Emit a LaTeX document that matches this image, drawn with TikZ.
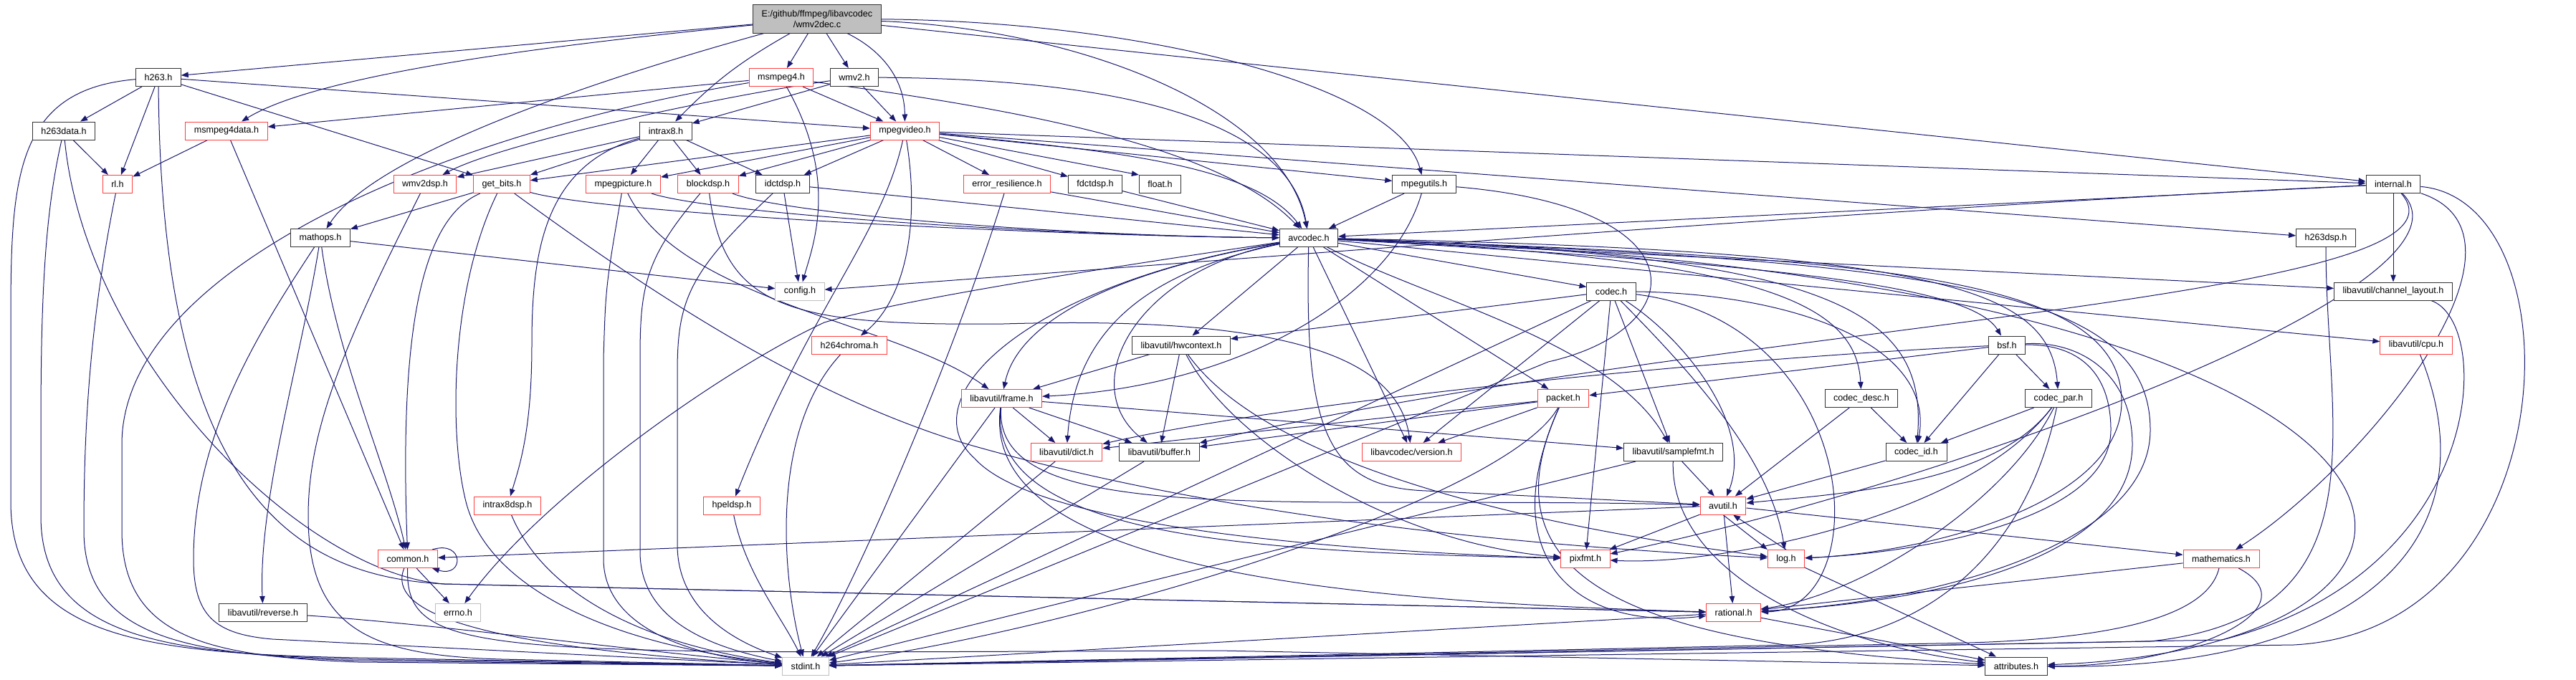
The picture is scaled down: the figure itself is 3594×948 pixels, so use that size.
\documentclass[tikz,border=0pt]{standalone}
\usepackage{fontspec}
\newfontfamily\graphfont{Liberation Sans}
\usetikzlibrary{arrows.meta,backgrounds}
\definecolor{edgeblue}{RGB}{25,25,112}
\definecolor{truncred}{RGB}{255,64,64}
\definecolor{sysgray}{RGB}{191,191,191}
\tikzset{hdr/.style={draw=black!80, line width=1pt, fill=white, inner xsep=12pt, inner ysep=2pt, minimum height=25pt, font=\graphfont\fontsize{12.6}{15}\selectfont},
  hdrtrunc/.style={hdr, draw=truncred},
  hdrsys/.style={hdr, draw=sysgray},
  hdrroot/.style={hdr, fill=sysgray, minimum height=40pt, align=center},
  incarrow/.style={-{Triangle[length=10pt,width=7.5pt]}, color=edgeblue, line width=1pt}}

\begin{document}
\begin{tikzpicture}[x=1pt, y=-1pt]
\useasboundingbox (0,0) rectangle (3594,948);
\node[hdrroot] (wmv2dec) at (1140,26) {E:/github/ffmpeg/libavcodec\\/wmv2dec.c};
\node[hdr] (h263) at (221,108) {h263.h};
\node[hdrtrunc] (msmpeg4) at (1090,108) {msmpeg4.h};
\node[hdr] (wmv2) at (1192,108) {wmv2.h};
\node[hdr] (h263data) at (89,182.5) {h263data.h};
\node[hdrtrunc] (msmpeg4data) at (316,182.5) {msmpeg4data.h};
\node[hdr] (intrax8) at (929,182.5) {intrax8.h};
\node[hdrtrunc] (mpegvideo) at (1262.5,182.5) {mpegvideo.h};
\node[hdrtrunc] (rl) at (164,257) {rl.h};
\node[hdrtrunc] (wmv2dsp) at (593,257) {wmv2dsp.h};
\node[hdrtrunc] (getbits) at (700,257) {get\_bits.h};
\node[hdrtrunc] (mpegpicture) at (869.5,257) {mpegpicture.h};
\node[hdrtrunc] (blockdsp) at (988,257) {blockdsp.h};
\node[hdr] (idctdsp) at (1092,257) {idctdsp.h};
\node[hdrtrunc] (errres) at (1405,257) {error\_resilience.h};
\node[hdr] (fdctdsp) at (1528,257) {fdctdsp.h};
\node[hdr] (floath) at (1618.5,257) {float.h};
\node[hdr] (mpegutils) at (1987,257) {mpegutils.h};
\node[hdr] (internal) at (3339,257) {internal.h};
\node[hdr] (mathops) at (447,332) {mathops.h};
\node[hdr] (avcodec) at (1826,332) {avcodec.h};
\node[hdr] (h263dsp) at (3245,332) {h263dsp.h};
\node[hdrsys] (config) at (1116,406.5) {config.h};
\node[hdr] (codec) at (2248,406.5) {codec.h};
\node[hdr] (chlayout) at (3339,406.5) {libavutil/channel\_layout.h};
\node[hdrtrunc] (h264chroma) at (1185,481.5) {h264chroma.h};
\node[hdr] (hwcontext) at (1648,481.5) {libavutil/hwcontext.h};
\node[hdr] (bsf) at (2800,481.5) {bsf.h};
\node[hdrtrunc] (cpu) at (3371,481.5) {libavutil/cpu.h};
\node[hdrtrunc] (frame) at (1397.5,556) {libavutil/frame.h};
\node[hdrtrunc] (packet) at (2181,556) {packet.h};
\node[hdr] (codecdesc) at (2597,556) {codec\_desc.h};
\node[hdr] (codecpar) at (2872,556) {codec\_par.h};
\node[hdrtrunc] (dict) at (1488,631) {libavutil/dict.h};
\node[hdr] (buffer) at (1617.5,631) {libavutil/buffer.h};
\node[hdrtrunc] (version) at (1969.5,631) {libavcodec/version.h};
\node[hdr] (samplefmt) at (2334.6,631) {libavutil/samplefmt.h};
\node[hdr] (codecid) at (2673.5,631) {codec\_id.h};
\node[hdrtrunc] (intrax8dsp) at (708,705.5) {intrax8dsp.h};
\node[hdrtrunc] (hpeldsp) at (1021,705.5) {hpeldsp.h};
\node[hdrtrunc] (avutil) at (2404,705.5) {avutil.h};
\node[hdrtrunc] (common) at (569,780) {common.h};
\node[hdrtrunc] (pixfmt) at (2212,780) {pixfmt.h};
\node[hdrtrunc] (log) at (2492,780) {log.h};
\node[hdrtrunc] (mathematics) at (3099,780) {mathematics.h};
\node[hdr] (reverse) at (367,855) {libavutil/reverse.h};
\node[hdrsys] (errno) at (639,855) {errno.h};
\node[hdrtrunc] (rational) at (2418.6,855) {rational.h};
\node[hdrsys] (stdint) at (1124,929.5) {stdint.h};
\node[hdr] (attributes) at (2813,929.5) {attributes.h};
\begin{scope}[on background layer]
% wmv2dec.c
\draw[incarrow] (wmv2dec) -- (h263);
\draw[incarrow] (wmv2dec) .. controls (800,60) and (450,100) .. (msmpeg4data);
\draw[incarrow] (wmv2dec) to[bend right=8] (intrax8);
\draw[incarrow] (wmv2dec) -- (msmpeg4);
\draw[incarrow] (wmv2dec) -- (wmv2);
\draw[incarrow] (wmv2dec) .. controls (1230,70) and (1262,110) .. (mpegvideo);
\draw[incarrow] (wmv2dec) .. controls (800,120) and (520,220) .. (mathops);
\draw[incarrow] (wmv2dec) .. controls (1500,40) and (1790,150) .. (avcodec);
\draw[incarrow] (wmv2dec) .. controls (1600,30) and (1950,120) .. (mpegutils);
\draw[incarrow] (wmv2dec) -- (internal);
% h263.h, h263data.h, rl.h, msmpeg4data.h
\draw[incarrow] (h263) -- (h263data);
\draw[incarrow] (h263) -- (rl);
\draw[incarrow] (h263) -- (mpegvideo);
\draw[incarrow] (h263) -- (getbits);
\draw[incarrow] (h263) .. controls (225,700) and (420,805) .. (620,815) -- (rational);
\draw[incarrow] (h263) .. controls (20,125) and (15,250) .. (15,450) -- (15,700) .. controls (15,890) and (200,912) .. (500,918) -- (stdint);
\draw[incarrow] (h263data) -- (rl);
\draw[incarrow] (h263data) .. controls (120,500) and (420,800) .. (620,815) -- (rational);
\draw[incarrow] (h263data) .. controls (62,300) and (57,420) .. (57,600) -- (57,720) .. controls (57,890) and (230,912) .. (500,920) -- (stdint);
\draw[incarrow] (rl) .. controls (125,450) and (117,600) .. (117,740) .. controls (117,890) and (260,914) .. (500,922) -- (stdint);
\draw[incarrow] (msmpeg4data) -- (rl);
\draw[incarrow] (msmpeg4data) -- (common);
\draw[incarrow] (wmv2dsp) .. controls (480,480) and (430,600) .. (430,720) .. controls (430,880) and (520,915) .. (700,920) -- (stdint);
% msmpeg4.h, wmv2.h, intrax8.h
\draw[incarrow] (msmpeg4) -- (msmpeg4data);
\draw[incarrow] (msmpeg4) -- (mpegvideo);
\draw[incarrow] (msmpeg4) .. controls (1400,150) and (1700,200) .. (avcodec);
\draw[incarrow] (msmpeg4) .. controls (1170,250) and (1135,340) .. (config);
\draw[incarrow] (msmpeg4) .. controls (600,190) and (170,380) .. (170,620) -- (170,740) .. controls (170,890) and (290,916) .. (500,924) -- (stdint);
\draw[incarrow] (wmv2) -- (intrax8);
\draw[incarrow] (wmv2) .. controls (1000,135) and (700,200) .. (wmv2dsp);
\draw[incarrow] (wmv2) -- (mpegvideo);
\draw[incarrow] (wmv2) .. controls (1600,110) and (1800,180) .. (avcodec);
\draw[incarrow] (intrax8) -- (wmv2dsp);
\draw[incarrow] (intrax8) -- (getbits);
\draw[incarrow] (intrax8) -- (mpegpicture);
\draw[incarrow] (intrax8) -- (blockdsp);
\draw[incarrow] (intrax8) -- (idctdsp);
\draw[incarrow] (intrax8) .. controls (760,230) and (742,350) .. (742,480) .. controls (742,600) and (725,650) .. (intrax8dsp);
% get_bits.h, mpegpicture.h, blockdsp.h, idctdsp.h, error_resilience.h, fdctdsp.h
\draw[incarrow] (getbits) -- (mathops);
\draw[incarrow] (getbits) .. controls (600,300) and (555,420) .. (common);
\draw[incarrow] (getbits) .. controls (630,400) and (625,600) .. (650,700) .. controls (680,820) and (850,900) .. (stdint);
\draw[incarrow] (getbits) .. controls (850,300) and (1500,330) .. (avcodec);
\draw[incarrow] (getbits) .. controls (950,440) and (1150,560) .. (1350,620) .. controls (1700,720) and (2100,760) .. (log);
\draw[incarrow] (mpegpicture) .. controls (845,400) .. (842,500) -- (842,780) .. controls (842,870) and (950,915) .. (stdint);
\draw[incarrow] (mpegpicture) .. controls (950,420) and (1250,450) .. (frame);
\draw[incarrow] (mpegpicture) .. controls (1000,300) and (1500,330) .. (avcodec);
\draw[incarrow] (blockdsp) .. controls (900,360) and (893,400) .. (893,500) -- (893,770) .. controls (893,870) and (1000,905) .. (stdint);
\draw[incarrow] (blockdsp) .. controls (1010,430) and (1100,455) .. (1400,452) .. controls (1800,440) and (1950,500) .. (version);
\draw[incarrow] (blockdsp) .. controls (1100,300) and (1500,330) .. (avcodec);
\draw[incarrow] (idctdsp) -- (config);
\draw[incarrow] (idctdsp) .. controls (960,380) and (945,420) .. (945,520) -- (945,760) .. controls (945,860) and (1040,900) .. (stdint);
\draw[incarrow] (idctdsp) -- (avcodec);
\draw[incarrow] (errres) .. controls (1330,500) and (1200,800) .. (stdint);
\draw[incarrow] (errres) -- (avcodec);
\draw[incarrow] (fdctdsp) -- (avcodec);
% mpegvideo.h
\draw[incarrow] (mpegvideo) -- (getbits);
\draw[incarrow] (mpegvideo) -- (mpegpicture);
\draw[incarrow] (mpegvideo) -- (blockdsp);
\draw[incarrow] (mpegvideo) -- (idctdsp);
\draw[incarrow] (mpegvideo) -- (errres);
\draw[incarrow] (mpegvideo) -- (fdctdsp);
\draw[incarrow] (mpegvideo) -- (floath.north west);
\draw[incarrow] (mpegvideo) -- (mpegutils);
\draw[incarrow] (mpegvideo) -- (internal);
\draw[incarrow] (mpegvideo) -- (h263dsp);
\draw[incarrow] (mpegvideo) .. controls (1550,210) and (1750,230) .. (avcodec);
\draw[incarrow] (mpegvideo) .. controls (1285,320) and (1260,420) .. (h264chroma);
\draw[incarrow] (mpegvideo) .. controls (1230,330) and (1130,430) .. (hpeldsp);
% mathops.h, common.h, the small headers
\draw[incarrow] (mathops) -- (config);
\draw[incarrow] (mathops) .. controls (470,500) and (540,650) .. (common);
\draw[incarrow] (mathops) .. controls (420,500) and (360,700) .. (reverse);
\draw[incarrow] (mathops) .. controls (370,450) and (270,600) .. (270,780) .. controls (270,860) and (300,885) .. (380,892) -- (stdint);
\draw[incarrow] ([xshift=-8pt]common.north east) .. controls +(45,-14) and +(45,14) .. ([xshift=-8pt]common.south east);
\draw[incarrow] (common) -- (errno);
\draw[incarrow] (common) .. controls (545,840) and (600,900) .. (stdint);
\draw[incarrow] (common) .. controls (565,920) and (680,912) .. (1700,908) -- (attributes);
\draw[incarrow] (reverse) .. controls (600,870) and (900,910) .. (stdint);
\draw[incarrow] (intrax8dsp) .. controls (760,830) and (900,900) .. (stdint);
\draw[incarrow] (hpeldsp) .. controls (1040,800) and (1090,860) .. (stdint);
\draw[incarrow] (h264chroma) .. controls (1075,600) and (1090,800) .. (stdint);
% avcodec.h
\draw[incarrow] (avcodec) .. controls (1500,380) and (1250,420) .. (1150,450) .. controls (1000,520) and (750,700) .. (errno);
\draw[incarrow] (avcodec) -- (codec);
\draw[incarrow] (avcodec) -- (hwcontext);
\draw[incarrow] (avcodec) .. controls (1550,380) and (1420,450) .. (frame);
\draw[incarrow] (avcodec) .. controls (1600,380) and (1500,460) .. (dict);
\draw[incarrow] (avcodec) .. controls (1580,380) and (1500,540) .. (buffer);
\draw[incarrow] (avcodec) -- (version);
\draw[incarrow] (avcodec) -- (packet);
\draw[incarrow] (avcodec) .. controls (2000,420) and (2250,480) .. (samplefmt);
\draw[incarrow] (avcodec) .. controls (1820,600) and (1850,680) .. (1990,685) -- (avutil);
\draw[incarrow] (avcodec) .. controls (1420,400) and (1270,560) .. (1360,640) .. controls (1450,740) and (1900,770) .. (pixfmt);
\draw[incarrow] (avcodec) .. controls (2600,360) and (2960,380) .. (2960,560) .. controls (2960,700) and (2700,770) .. (log);
\draw[incarrow] (avcodec) .. controls (2700,365) and (3000,400) .. (3000,600) .. controls (3000,760) and (2700,840) .. (rational);
\draw[incarrow] (avcodec) .. controls (2450,360) and (2590,420) .. (codecdesc);
\draw[incarrow] (avcodec) .. controls (2550,355) and (2690,430) .. (codecid);
\draw[incarrow] (avcodec) .. controls (2700,350) and (2860,400) .. (codecpar);
\draw[incarrow] (avcodec) .. controls (2500,370) and (2750,400) .. (bsf);
\draw[incarrow] (avcodec) -- (cpu);
\draw[incarrow] (avcodec) -- (chlayout);
\draw[incarrow] (avcodec) .. controls (3500,380) and (3560,900) .. (attributes);
% codec.h, hwcontext.h, frame.h, packet.h
\draw[incarrow] (codec) -- (hwcontext);
\draw[incarrow] (codec) -- (stdint);
\draw[incarrow] (codec) -- (version);
\draw[incarrow] (codec) -- (pixfmt);
\draw[incarrow] (codec) -- (samplefmt);
\draw[incarrow] (codec) .. controls (2360,520) and (2470,640) .. (log);
\draw[incarrow] (codec) .. controls (2360,480) and (2445,600) .. (avutil);
\draw[incarrow] (codec) .. controls (2600,450) and (2620,850) .. (rational);
\draw[incarrow] (codec) .. controls (2500,410) and (2700,480) .. (codecid);
\draw[incarrow] (hwcontext) -- (frame);
\draw[incarrow] (hwcontext) -- (buffer);
\draw[incarrow] (hwcontext) .. controls (1720,620) and (1950,760) .. (pixfmt);
\draw[incarrow] (hwcontext) .. controls (1760,640) and (2100,730) .. (log);
\draw[incarrow] (frame) -- (dict);
\draw[incarrow] (frame) -- (buffer);
\draw[incarrow] (frame) -- (samplefmt);
\draw[incarrow] (frame) -- (stdint);
\draw[incarrow] (frame) .. controls (1385,740) and (1800,690) .. (avutil);
\draw[incarrow] (frame) .. controls (1375,760) and (1800,770) .. (pixfmt);
\draw[incarrow] (frame) .. controls (1365,800) and (1900,840) .. (rational);
\draw[incarrow] (dict) -- (stdint);
\draw[incarrow] (buffer) -- (stdint);
\draw[incarrow] (packet) -- (buffer);
\draw[incarrow] (packet) -- (dict);
\draw[incarrow] (packet) -- (version);
\draw[incarrow] (packet) .. controls (2100,700) and (1500,880) .. (stdint);
\draw[incarrow] (packet) .. controls (2080,780) and (2200,880) .. (rational);
\draw[incarrow] (packet) .. controls (2060,820) and (2300,900) .. (attributes);
% samplefmt.h, codec_*.h, bsf.h
\draw[incarrow] (samplefmt) -- (avutil);
\draw[incarrow] (samplefmt) .. controls (2330,800) and (2550,900) .. (attributes);
\draw[incarrow] (samplefmt) -- (stdint);
\draw[incarrow] (codecdesc) -- (avutil);
\draw[incarrow] (codecdesc) -- (codecid);
\draw[incarrow] (codecid) -- (avutil);
\draw[incarrow] (codecpar) -- (codecid);
\draw[incarrow] (codecpar) .. controls (2780,680) and (2550,690) .. (avutil);
\draw[incarrow] (codecpar) .. controls (2800,700) and (2600,830) .. (rational);
\draw[incarrow] (codecpar) .. controls (2750,720) and (2400,790) .. (pixfmt);
\draw[incarrow] (codecpar) .. controls (2830,760) and (2700,890) .. (2500,900) -- (stdint);
\draw[incarrow] (bsf) -- (codecid);
\draw[incarrow] (bsf) -- (codecpar);
\draw[incarrow] (bsf) -- (packet);
\draw[incarrow] (bsf) .. controls (2400,500) and (1800,560) .. (dict);
\draw[incarrow] (bsf) .. controls (2900,480) and (2945,520) .. (2945,600) .. controls (2945,720) and (2700,770) .. (log);
\draw[incarrow] (bsf) .. controls (2900,475) and (2975,520) .. (2975,620) .. controls (2975,780) and (2700,840) .. (rational);
% libavutil core
\draw[incarrow] (avutil) -- (common);
\draw[incarrow] (avutil) -- (rational);
\draw[incarrow] (avutil.south) -- (log.north west);
\draw[incarrow] (log.north) -- ([xshift=14pt]avutil.south);
\draw[incarrow] (avutil) -- (pixfmt);
\draw[incarrow] (avutil) -- (mathematics);
\draw[incarrow] (log) -- (attributes);
\draw[incarrow] (rational) -- (attributes);
\draw[incarrow] (rational) -- (stdint);
\draw[incarrow] (mathematics) -- (rational);
\draw[incarrow] (mathematics) .. controls (3080,860) and (2950,895) .. (2700,898) -- (stdint);
\draw[incarrow] (mathematics) .. controls (3230,850) and (3050,930) .. (attributes);
\draw[incarrow] (cpu) .. controls (3480,750) and (3300,935) .. (attributes);
% internal.h, h263dsp.h, mpegutils.h
\draw[incarrow] (internal) -- (chlayout);
\draw[incarrow] (internal) -- (avcodec);
\draw[incarrow] (internal) .. controls (2600,290) and (1500,380) .. (config);
\draw[incarrow] (internal) .. controls (3480,420) and (2400,450) .. (buffer);
\draw[incarrow] (internal) .. controls (3560,330) and (3300,650) .. (mathematics);
\draw[incarrow] (internal) .. controls (3480,400) and (2700,680) .. (pixfmt);
\draw[incarrow] (internal) .. controls (3600,280) and (3585,880) .. (3200,900) -- (stdint);
\draw[incarrow] ([xshift=-30pt]chlayout.south east) .. controls (3480,450) and (3470,800) .. (3100,893) -- (stdint);
\draw[incarrow] (h263dsp) .. controls (3245,600) and (3330,860) .. (3000,895) -- (stdint);
\draw[incarrow] (mpegutils) -- (avcodec);
\draw[incarrow] (mpegutils) .. controls (1940,420) and (1720,540) .. (frame);
\draw[incarrow] (mpegutils) .. controls (2380,290) and (2360,460) .. (2160,505) -- (stdint);
\end{scope}
\end{tikzpicture}
\end{document}
